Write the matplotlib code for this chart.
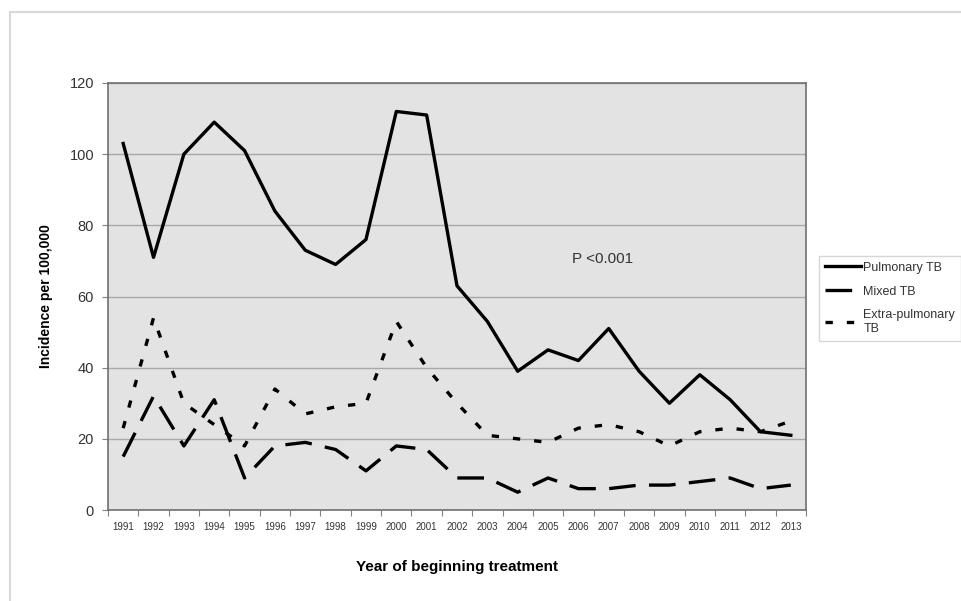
import matplotlib.pyplot as plt
from matplotlib.patches import Rectangle

plt.rcParams['font.family'] = ['Liberation Sans', 'DejaVu Sans']

years = [str(y) for y in range(1991, 2014)]
pulmonary = [103, 71, 100, 109, 101, 84, 73, 69, 76, 112, 111, 63, 53, 39, 45, 42, 51, 39, 30, 38, 31, 22, 21]
mixed = [15, 32, 18, 31, 9, 18, 19, 17, 11, 18, 17, 9, 9, 5, 9, 6, 6, 7, 7, 8, 9, 6, 7]
extra = [23, 54, 30, 24, 18, 34, 27, 29, 30, 53, 40, 30, 21, 20, 19, 23, 24, 22, 18, 22, 23, 22, 25]

fig = plt.figure(figsize=(9.61, 6.01), dpi=100)
# light frame round the whole picture
fig.patches.append(Rectangle((10 / 961, -0.1), 1.2, 1 - 12 / 601 + 0.1, transform=fig.transFigure,
                             fill=False, edgecolor='#d8d8d8', linewidth=1.5))

ax = fig.add_axes([108 / 961, 91 / 601, 698 / 961, 427 / 601])
ax.set_facecolor('#e3e3e3')
x = list(range(len(years)))

lw = 2.4
ax.plot(x, pulmonary, color='black', lw=lw, label='Pulmonary TB')
ax.plot(x, mixed, color='black', lw=lw, dashes=(8, 4), label='Mixed TB')
ax.plot(x, extra, color='black', lw=lw, dashes=(2.2, 4.2), label='Extra-pulmonary\nTB')

ax.set_xlim(-0.5, len(years) - 0.5)
ax.set_ylim(0, 120)
ax.set_yticks(range(0, 121, 20))
ax.yaxis.grid(True, color='#a8a8a8', lw=1)
ax.set_axisbelow(True)

ax.set_xticks([i - 0.5 for i in range(len(years) + 1)])
ax.set_xticklabels([])
ax.set_xticks(x, minor=True)
ax.set_xticklabels(years, minor=True, fontsize=7, color='#333333')
ax.tick_params(axis='x', which='major', length=4, color='#808080')
ax.tick_params(axis='x', which='minor', length=0, pad=9)
ax.tick_params(axis='y', length=4, color='#808080', labelsize=10.5, labelcolor='#333333', pad=6)

for s in ax.spines.values():
    s.set_color('#707070')
    s.set_linewidth(1.2)

ax.set_ylabel('Incidence per 100,000', fontsize=10, fontweight='bold', labelpad=12)
ax.set_xlabel('Year of beginning treatment', fontsize=11, fontweight='bold', labelpad=20)

ax.text(14.8, 70.5, 'P <0.001', fontsize=11, color='#333333', va='center')

leg = fig.legend(loc='upper left', bbox_to_anchor=(819 / 961, 1 - 256 / 601), fontsize=9,
                 frameon=True, fancybox=False, handlelength=2.9, handletextpad=0.2,
                 labelspacing=0.95, borderpad=0.45, borderaxespad=0)
leg.get_frame().set_edgecolor('#cccccc')
leg.get_frame().set_linewidth(1)
for t in leg.get_texts():
    t.set_color('#333333')

fig.savefig('out.png', dpi=100)
